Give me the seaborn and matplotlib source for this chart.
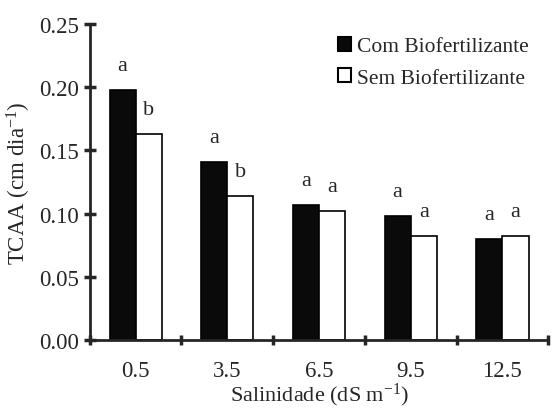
import matplotlib
matplotlib.use("Agg")
import matplotlib.pyplot as plt
import seaborn as sns
import pandas as pd
from matplotlib.ticker import FixedLocator

categories = ["0.5", "3.5", "6.5", "9.5", "12.5"]
com_vals = [0.198, 0.141, 0.107, 0.098, 0.080]
sem_vals = [0.163, 0.114, 0.102, 0.082, 0.082]
com_letters = ["a", "a", "a", "a", "a"]
sem_letters = ["b", "b", "a", "a", "a"]
series = ["Com Biofertilizante", "Sem Biofertilizante"]
yticks = [0.00, 0.05, 0.10, 0.15, 0.20, 0.25]

df = pd.DataFrame({
    "Salinidade": categories * 2,
    "TCAA": com_vals + sem_vals,
    "Trat": [series[0]] * len(categories) + [series[1]] * len(categories),
})

sns.set_style("ticks")
plt.rcParams["font.family"] = ["Liberation Serif", "DejaVu Serif"]
plt.rcParams["mathtext.fontset"] = "custom"
plt.rcParams["mathtext.rm"] = "Liberation Serif"
plt.rcParams["mathtext.it"] = "Liberation Serif:italic"
plt.rcParams["mathtext.default"] = "rm"

fig = plt.figure(figsize=(5.51, 4.10), dpi=100)
ax = fig.add_axes([0.163, 0.168, 0.832, 0.771])

sns.barplot(data=df, x="Salinidade", y="TCAA", hue="Trat", order=categories,
            hue_order=series, palette=["#0a0a0a", "white"], edgecolor="black",
            linewidth=1.2, width=0.57, ax=ax, legend=True)

# letters above bars
letters = com_letters + sem_letters
vals = com_vals + sem_vals
patches = [p for p in ax.patches if p.get_height() > 0][:len(vals)]
for p, v, l in zip(patches, vals, letters):
    ax.text(p.get_x() + p.get_width() / 2, v + 0.012, l, ha="center",
            va="bottom", fontsize=16)

ax.set_ylim(0, 0.25)
ax.set_xlim(-0.5, len(categories) - 0.5)
ax.set_yticks(yticks)
ax.set_yticklabels([f"{t:.2f}" for t in yticks], fontsize=16.5)
ax.set_xticks(range(len(categories)))
ax.set_xticklabels(categories, fontsize=16.5)
ax.tick_params(axis="x", which="major", length=0, pad=14)
ax.xaxis.set_minor_locator(FixedLocator([i - 0.5 for i in range(len(categories) + 1)]))
ax.tick_params(axis="x", which="minor", length=7, width=2.5, direction="inout")
ax.tick_params(axis="y", which="major", length=8, width=2.5, direction="inout", pad=4)

for s in ["top", "right"]:
    ax.spines[s].set_visible(False)
for s in ["left", "bottom"]:
    ax.spines[s].set_linewidth(2)

ax.set_xlabel("Salinidade (dS m$^{-1}$)", fontsize=16, labelpad=0)
ax.set_ylabel("TCAA (cm dia$^{-1}$)", fontsize=16.5, labelpad=4)

leg = ax.legend(loc="upper right", bbox_to_anchor=(1.0, 1.02), frameon=False,
                fontsize=15.5, handlelength=0.6, handleheight=0.6,
                handletextpad=0.3, labelspacing=0.55)
for h in leg.legend_handles:
    h.set_edgecolor("black")
    h.set_linewidth(1.5)

fig.savefig("out.png", dpi=100)
